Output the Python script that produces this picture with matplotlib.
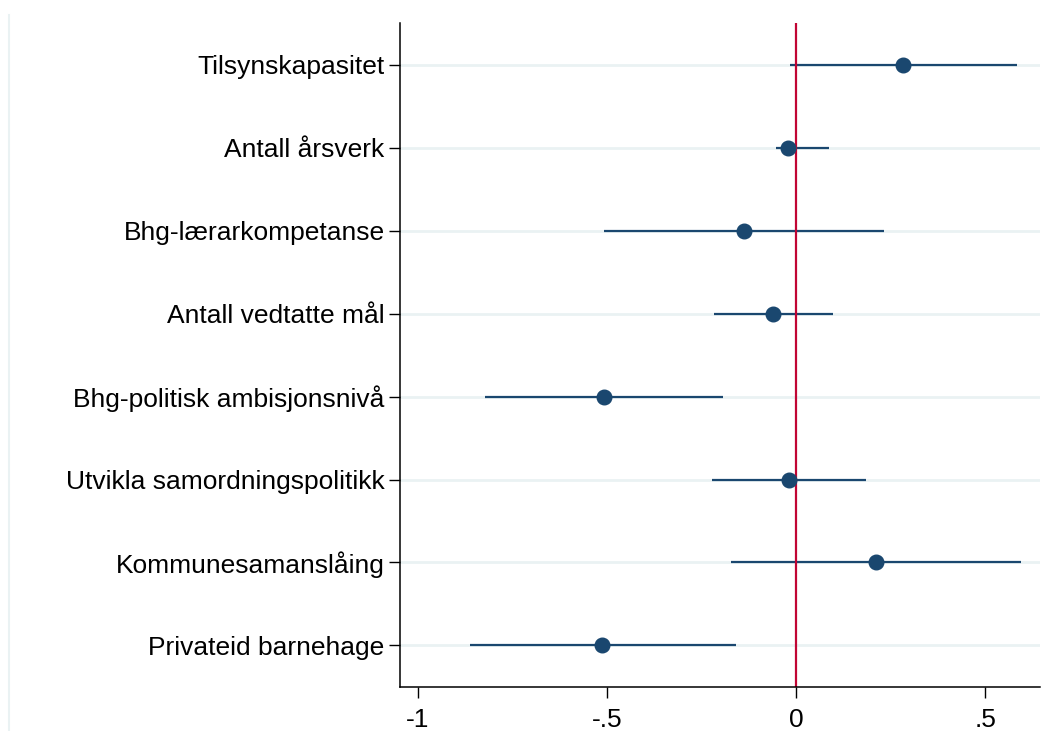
import numpy as np
import matplotlib.pyplot as plt
from matplotlib.lines import Line2D

plt.rcParams['font.family'] = ['Liberation Sans', 'DejaVu Sans']

# Coefficients and confidence intervals
labels = ['Tilsynskapasitet', 'Antall årsverk', 'Bhg-lærarkompetanse',
          'Antall vedtatte mål', 'Bhg-politisk ambisjonsnivå',
          'Utvikla samordningspolitikk', 'Kommunesamanslåing',
          'Privateid barnehage']
coef = [0.282, -0.021, -0.137, -0.061, -0.509, -0.018, 0.211, -0.512]
ci_low = [-0.016, -0.053, -0.509, -0.216, -0.823, -0.222, -0.172, -0.863]
ci_high = [0.583, 0.087, 0.232, 0.098, -0.193, 0.185, 0.594, -0.158]
xticks = [-1, -0.5, 0, 0.5]
xticklabels = ['-1', '-.5', '0', '.5']

navy = '#1a476f'
fig = plt.figure(figsize=(10.48, 7.31), dpi=100)
ax = fig.add_axes([0.3817, 0.0602, 0.6103, 0.9083])

y = np.arange(1, len(labels) + 1)

# light horizontal grid at each category
for yi in y:
    ax.axhline(yi, color='#eaf2f3', lw=2, zorder=0)

ax.hlines(y, ci_low, ci_high, color=navy, lw=1.6, zorder=2)
ax.plot(coef, y, 'o', color=navy, ms=10.5, zorder=3)
ax.axvline(0, color='#c10534', lw=1.6, zorder=2.5)

ax.set_ylim(8.5, 0.5)
ax.set_xlim(-1.047, 0.644)
ax.set_yticks(y)
ax.set_yticklabels(labels, fontsize=19)
ax.set_xticks(xticks)
ax.set_xticklabels(xticklabels, fontsize=19)
ax.tick_params(axis='both', length=8, width=1, color='black')
ax.tick_params(axis='y', pad=3)
ax.tick_params(axis='x', pad=7)

ax.spines['top'].set_visible(False)
ax.spines['right'].set_visible(False)
ax.spines['left'].set_linewidth(1.1)
ax.spines['bottom'].set_linewidth(1.1)

# faint frame line at the left edge of the figure
fig.add_artist(Line2D([0.0082, 0.0082], [0.0, 0.98], color='#eaf2f3', lw=1.5))

plt.savefig('out.png', dpi=100)
